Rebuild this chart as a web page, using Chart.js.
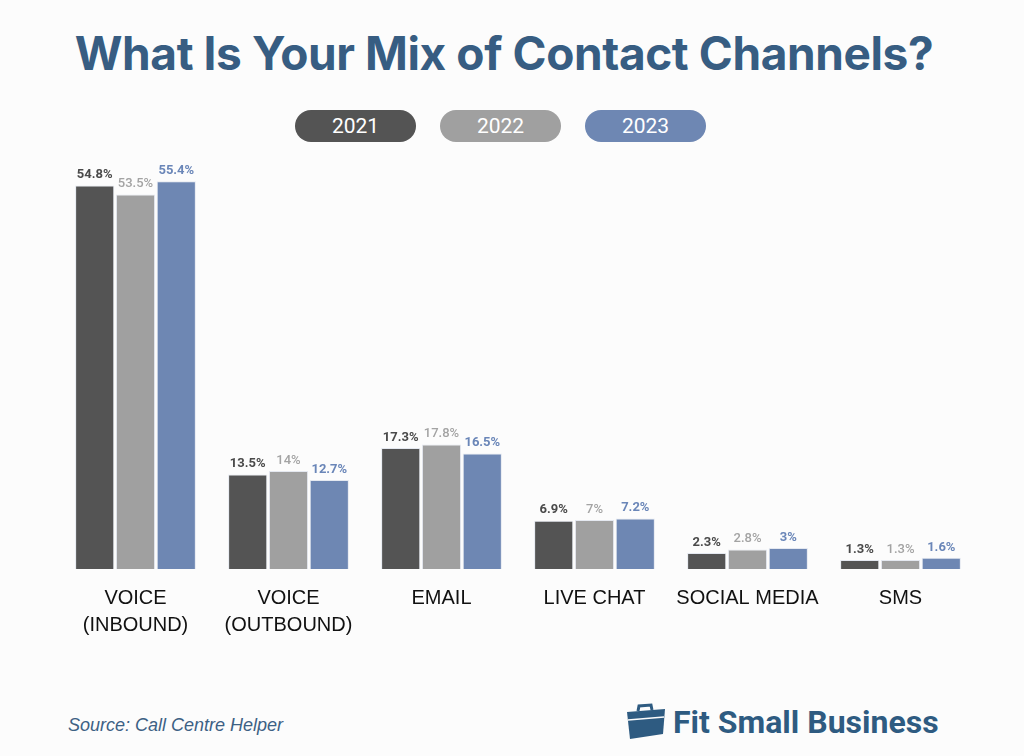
<!DOCTYPE html>
<html>
<head>
<meta charset="utf-8">
<script src="https://cdn.jsdelivr.net/npm/chart.js@4.4.0/dist/chart.umd.min.js"></script>
<style>
  html, body { margin: 0; padding: 0; background: #fcfcfc; }
  body { width: 1024px; height: 756px; position: relative; overflow: hidden; font-family: "Liberation Sans", Arial, sans-serif; }
  #title { position: absolute; left: 0; top: 25px; width: 1008px; text-align: center; font-family: Inter, sans-serif; font-weight: 700; font-size: 46px; color: #375d82; letter-spacing: -0.4px; }
  #legend { position: absolute; top: 110px; left: 295px; display: flex; gap: 24px; }
  .pill { width: 121px; height: 32px; border-radius: 16px; color: #fff; font-family: Roboto, sans-serif; font-size: 21px; line-height: 32px; text-align: center; }
  #wrap { position: absolute; left: 0; top: 140px; width: 1024px; height: 520px; }
  #source { position: absolute; left: 68px; top: 715px; font-style: italic; font-size: 18px; color: #3d6184; font-family: "Liberation Sans", Arial, sans-serif; }
  #logo { position: absolute; left: 625px; top: 703px; display: flex; align-items: center; gap: 6px; color: #2e5b81; font-family: Roboto, sans-serif; font-weight: 700; font-size: 32px; }
</style>
</head>
<body>
<div id="title">What Is Your Mix of Contact Channels?</div>
<div id="legend"></div>
<div id="wrap"><canvas id="chart"></canvas></div>
<div id="source">Source: Call Centre Helper</div>
<div id="logo">
  <svg width="42" height="38" viewBox="0 0 42 38">
    <path d="M13 8 L14 3 L26 2 L27 7" fill="none" stroke="#2e5b81" stroke-width="3"/>
    <path d="M2 9 L40 6 L38 31 L5 36 Z" fill="#2e5b81"/>
    <path d="M3 17 L39 14" stroke="#fcfcfc" stroke-width="1.5"/>
  </svg>
  <span>Fit Small Business</span>
</div>
<script>
// данные
const categories = [["VOICE", "(INBOUND)"], ["VOICE", "(OUTBOUND)"], "EMAIL", "LIVE CHAT", "SOCIAL MEDIA", "SMS"];
const years = ["2021", "2022", "2023"];
const values2021 = [54.8, 13.5, 17.3, 6.9, 2.3, 1.3];
const values2022 = [53.5, 14, 17.8, 7, 2.8, 1.3];
const values2023 = [55.4, 12.7, 16.5, 7.2, 3, 1.6];
const barColors = ["#545454", "#a0a0a0", "#6e87b3"];
const labelColors = ["#4a4a4a", "#a3a3a3", "#6a86b8"];

// легенда
var legend = document.getElementById("legend");
years.forEach(function (y, i) {
  var d = document.createElement("div");
  d.className = "pill";
  d.style.background = barColors[i];
  d.textContent = y;
  legend.appendChild(d);
});

const valueLabels = {
  id: "valueLabels",
  afterDatasetsDraw(chart) {
    const { ctx } = chart;
    ctx.save();
    ctx.textAlign = "center";
    ctx.textBaseline = "bottom";
    chart.data.datasets.forEach(function (ds, i) {
      ctx.font = (i == 1 ? "500" : "700") + " 13px Roboto, sans-serif";
      ctx.fillStyle = labelColors[i];
      chart.getDatasetMeta(i).data.forEach(function (bar, j) {
        ctx.fillText(ds.data[j] + "%", bar.x, bar.y - 4);
      });
    });
    ctx.restore();
  },
};

var ctx = document.getElementById("chart").getContext("2d");
var myChart = new Chart(ctx, {
  type: "bar",
  plugins: [valueLabels],
  data: {
    labels: categories,
    datasets: [
      { label: years[0], data: values2021, backgroundColor: barColors[0] },
      { label: years[1], data: values2022, backgroundColor: barColors[1] },
      { label: years[2], data: values2023, backgroundColor: barColors[2] },
    ],
  },
  options: {
    responsive: true,
    maintainAspectRatio: false,
    animation: false,
    categoryPercentage: 0.8,
    barPercentage: 0.96,
    borderColor: "#e4e8f0",
    borderWidth: 1,
    layout: { padding: { left: 59, right: 47, top: 9, bottom: 13 } },
    plugins: { legend: { display: false }, tooltip: { enabled: false } },
    scales: {
      x: {
        grid: { display: false },
        border: { display: false },
        ticks: {
          color: "#111",
          padding: 8,
          maxRotation: 0,
          autoSkip: false,
          font: { family: "Liberation Sans, Arial, sans-serif", size: 20, lineHeight: 1.35 },
        },
      },
      y: { display: false, min: 0, max: 60 },
    },
  },
});
</script>
</body>
</html>
